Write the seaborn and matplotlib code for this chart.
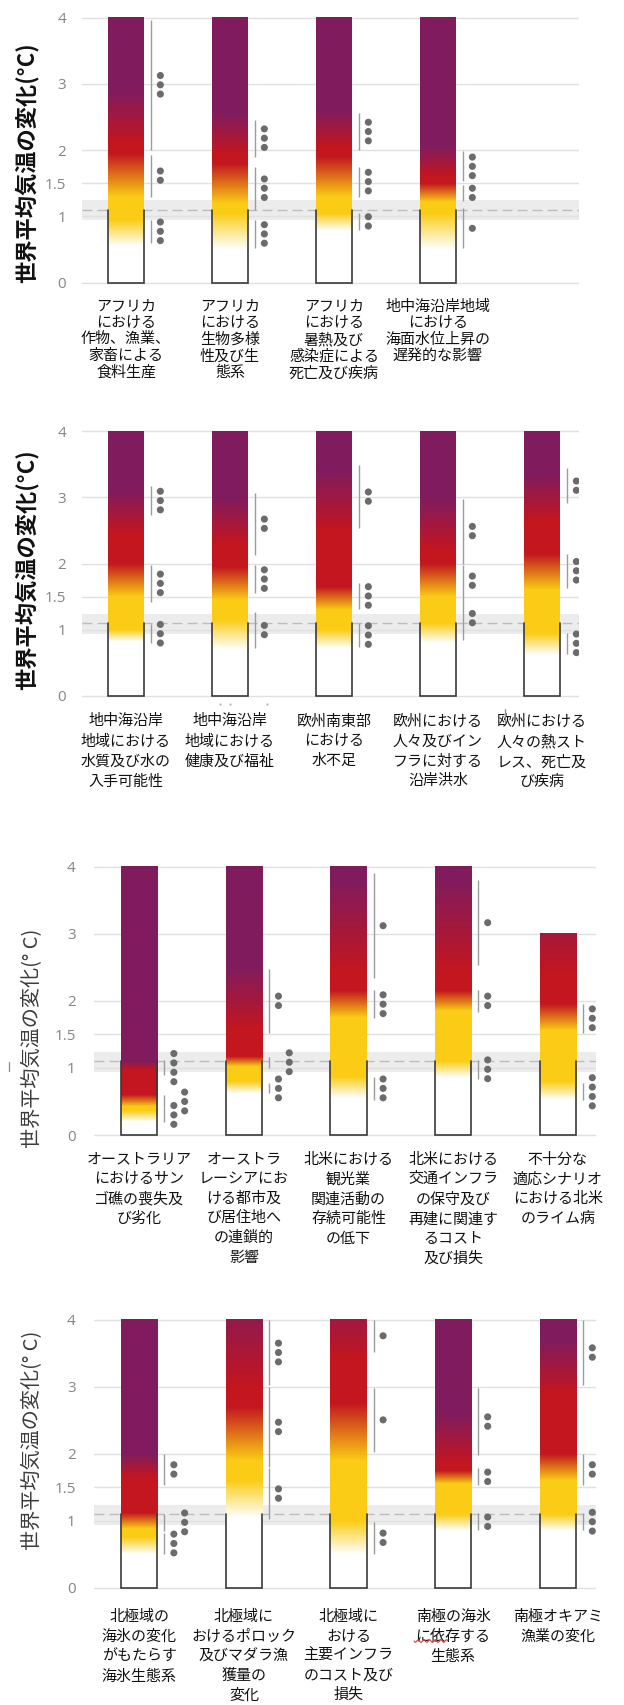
import numpy as np
import matplotlib
matplotlib.use("Agg")
import matplotlib.pyplot as plt
from matplotlib.colors import LinearSegmentedColormap
from matplotlib.lines import Line2D
import seaborn as sns

# ---------------------------------------------------------------------------
# Data
# Risk level scale: 0 = undetectable, 1 = moderate, 2 = high, 3 = very high.
# Each ember is a list of (global warming in °C, risk level) anchor points;
# the colour is interpolated between the anchors.
# Confidence entries are (lower °C, upper °C, number of confidence dots).
# ---------------------------------------------------------------------------

p1_labels = [
    "アフリカ\nにおける\n作物、漁業、\n家畜による\n食料生産",
    "アフリカ\nにおける\n生物多様\n性及び生\n態系",
    "アフリカ\nにおける\n暑熱及び\n感染症による\n死亡及び疾病",
    "地中海沿岸地域\nにおける\n海面水位上昇の\n遅発的な影響",
]
p1_tops = [4, 4, 4, 4]
p1_embers = [
    [(0.55, 0), (0.95, 1), (1.3, 1), (1.95, 2), (2.1, 2), (2.9, 3)],
    [(0.5, 0), (1.05, 1), (1.2, 1), (1.8, 2), (1.95, 2), (2.55, 3)],
    [(0.78, 0), (1.05, 1), (1.3, 1), (1.9, 2), (2.05, 2), (2.6, 3)],
    [(0.5, 0), (1.05, 1), (1.22, 1), (1.5, 2), (1.62, 2), (2.05, 3)],
]
p1_confidence = [
    [(0.6, 0.95, 3), (1.3, 1.93, 2), (2.0, 3.97, 3)],
    [(0.52, 0.95, 3), (1.1, 1.75, 3), (1.9, 2.46, 3)],
    [(0.8, 1.05, 2), (1.3, 1.75, 3), (2.0, 2.56, 3)],
    [(0.52, 1.12, 1), (1.23, 1.48, 2), (1.53, 1.98, 3)],
]

p2_labels = [
    "地中海沿岸\n地域における\n水質及び水の\n入手可能性",
    "地中海沿岸\n地域における\n健康及び福祉",
    "欧州南東部\nにおける\n水不足",
    "欧州における\n人々及びイン\nフラに対する\n沿岸洪水",
    "欧州における\n人々の熱スト\nレス、死亡及\nび疾病",
]
p2_tops = [4, 4, 4, 4, 4]
p2_embers = [
    [(0.82, 0), (1.0, 1), (1.5, 1), (2.0, 2), (2.45, 2), (3.1, 3)],
    [(0.7, 0), (1.15, 1), (1.45, 1), (1.95, 2), (2.3, 2), (3.0, 3)],
    [(0.72, 0), (1.0, 1), (1.3, 1), (1.65, 2), (2.5, 2), (3.4, 3)],
    [(0.8, 0), (1.1, 1), (1.5, 1), (2.0, 2), (2.2, 2), (3.0, 3)],
    [(0.62, 0), (0.95, 1), (1.6, 1), (2.15, 2), (2.65, 2), (3.35, 3)],
]
p2_confidence = [
    [(0.8, 1.08, 3), (1.42, 1.98, 3), (2.73, 3.17, 3)],
    [(0.72, 1.27, 2), (1.55, 1.98, 3), (2.13, 3.07, 2)],
    [(0.74, 1.1, 3), (1.32, 1.7, 3), (2.53, 3.49, 2)],
    [(0.85, 1.5, 2), (1.5, 1.98, 2), (2.0, 2.98, 2)],
    [(0.64, 0.95, 3), (1.63, 2.15, 3), (2.91, 3.44, 2)],
]

p3_labels = [
    "オーストラリア\nにおけるサン\nゴ礁の喪失及\nび劣化",
    "オーストラ\nレーシアにお\nける都市及\nび居住地へ\nの連鎖的\n影響",
    "北米における\n観光業\n関連活動の\n存続可能性\nの低下",
    "北米における\n交通インフラ\nの保守及び\n再建に関連す\nるコスト\n及び損失",
    "不十分な\n適応シナリオ\nにおける北米\nのライム病",
]
p3_tops = [4, 4, 4, 4, 3]
p3_embers = [
    [(0.2, 0), (0.36, 1), (0.42, 1), (0.6, 2), (0.97, 2), (1.1, 3)],
    [(0.62, 0), (0.8, 1), (1.02, 1), (1.17, 2), (1.57, 2), (2.5, 3)],
    [(0.55, 0), (0.87, 1), (1.75, 1), (2.15, 2), (2.45, 2), (3.8, 3)],
    [(0.85, 0), (1.1, 1), (1.85, 1), (2.15, 2), (2.45, 2), (3.8, 3)],
    [(0.52, 0), (0.8, 1), (1.55, 1), (1.95, 2), (2.4, 2), (3.8, 3)],
]
p3_confidence = [
    [(0.2, 0.4, 3), (0.4, 0.6, 3), (0.89, 1.12, 4)],
    [(0.62, 0.77, 3), (1.0, 1.17, 3), (1.52, 2.48, 2)],
    [(0.52, 0.87, 3), (1.74, 2.16, 3), (2.34, 3.9, 1)],
    [(0.84, 1.12, 3), (1.84, 2.16, 2), (2.53, 3.8, 1)],
    [(0.52, 0.77, 4), (1.52, 1.96, 3)],
]

p4_labels = [
    "北極域の\n海氷の変化\nがもたらす\n海氷生態系",
    "北極域に\nおけるポロック\n及びマダラ漁\n獲量の\n変化",
    "北極域に\nおける\n主要インフラ\nのコスト及び\n損失",
    "南極の海氷\nに依存する\n生態系",
    "南極オキアミ\n漁業の変化",
]
p4_tops = [4, 4, 4, 4, 4]
p4_embers = [
    [(0.5, 0), (0.76, 1), (0.88, 1), (1.12, 2), (1.65, 2), (2.0, 3)],
    [(1.05, 0), (1.6, 1), (1.9, 1), (2.7, 2), (3.0, 2), (4.4, 3)],
    [(0.5, 0), (1.0, 1), (1.9, 1), (2.75, 2), (3.4, 2), (4.6, 3)],
    [(0.85, 0), (1.1, 1), (1.55, 1), (1.75, 2), (1.85, 2), (2.6, 3)],
    [(0.85, 0), (1.1, 1), (1.6, 1), (2.0, 2), (2.9, 2), (3.7, 3)],
]
p4_confidence = [
    [(0.5, 0.82, 3), (0.85, 1.1, 3), (1.53, 2.0, 2)],
    [(1.03, 1.78, 2), (1.8, 3.0, 2), (3.02, 4.0, 3)],
    [(0.51, 0.98, 2), (2.03, 2.98, 1), (3.52, 4.0, 1)],
    [(0.86, 1.11, 2), (1.53, 1.78, 2), (1.98, 2.98, 2)],
    [(0.86, 1.11, 3), (1.53, 2.0, 2), (3.02, 4.0, 2)],
]

y_ticks = [0, 1, 1.5, 2, 3, 4]
y_tick_labels = ["0", "1", "1.5", "2", "3", "4"]
recent_warming = 1.1            # dashed line: warming reached so far
recent_range = (0.94, 1.24)     # shaded likely range around it

# ---------------------------------------------------------------------------
# Style
# ---------------------------------------------------------------------------
sns.set_theme(style="white")
plt.rcParams["font.family"] = ["Noto Sans CJK JP", "DejaVu Sans"]

YELLOW = "#FACC15"
RED = "#C3161F"
PURPLE = "#801C5E"
ember_cmap = LinearSegmentedColormap.from_list(
    "ember", [(0.0, "white"), (1 / 3, YELLOW), (2 / 3, RED), (1.0, PURPLE)])

W_PX, H_PX = 624, 1705
BAR_WIDTH = 0.345
LINE_DX = 0.067      # confidence line, right of the bar edge
DOT_DX = 0.158       # first column of confidence dots
DOT_COL = 0.103      # extra shift for an overlapping dot group
DOT_STEP = 0.14      # vertical spacing between dots


def add_axes_px(fig, left, right, top, bottom):
    return fig.add_axes([left / W_PX, 1 - bottom / H_PX,
                         (right - left) / W_PX, (bottom - top) / H_PX])


def to_fig(xs, ys):
    """Figure pixel coordinates (origin top-left) to figure fractions."""
    return np.asarray(xs) / W_PX, 1 - np.asarray(ys) / H_PX


def draw_panel(ax, labels, tops, embers, confidence, xlim, tick_pad,
               label_pad, linespacing):
    sns.barplot(x=labels, y=tops, order=labels, color="white",
                width=BAR_WIDTH, errorbar=None, linewidth=0, ax=ax, zorder=1)

    # recent warming band and grid
    ax.axhspan(*recent_range, color="#ececec", lw=0, zorder=0.2)
    for t in y_ticks:
        ax.axhline(t, color="#e0e0e0", lw=1.0, zorder=0.4)
    ax.axhline(recent_warming, color="#bdbdbd", lw=1.0,
               dashes=(7.2, 3.6), zorder=0.5)

    dots_x, dots_y = [], []
    for patch, stops, conf in zip(ax.patches, embers, confidence):
        x0 = patch.get_x()
        w = patch.get_width()
        top = patch.get_height()
        patch.set_facecolor("none")

        # burning ember gradient
        temps = np.linspace(0, top, 800)
        level = np.interp(temps, [s[0] for s in stops], [s[1] for s in stops])
        ax.imshow(level[:, None], cmap=ember_cmap, vmin=0, vmax=3,
                  extent=(x0, x0 + w, 0, top), origin="lower",
                  aspect="auto", interpolation="nearest", zorder=2)

        # open box below the recent warming level
        ax.plot([x0, x0, x0 + w, x0 + w],
                [recent_warming, 0, 0, recent_warming],
                color="#3a3a3a", lw=1.2, zorder=3, solid_joinstyle="miter")

        # confidence lines and dots; overlapping dot groups move one column right
        xr = x0 + w
        placed = []
        for lo, hi, n in sorted(conf, key=lambda c: c[0]):
            ax.vlines(xr + LINE_DX, lo, hi, color="#9c9c9c", lw=1.0, zorder=3)
            mid = 0.5 * (lo + hi)
            ys = mid + (np.arange(n) - (n - 1) / 2) * DOT_STEP
            span = (ys.min() - DOT_STEP / 2, ys.max() + DOT_STEP / 2)
            col = 0
            while any(c == col and span[0] < b and span[1] > a
                      for c, a, b in placed):
                col += 1
            placed.append((col, span[0], span[1]))
            dots_x += [xr + DOT_DX + col * DOT_COL] * n
            dots_y += list(ys)

    sns.scatterplot(x=np.array(dots_x), y=np.array(dots_y), s=26,
                    color="#6b6b6b", edgecolor="none", legend=False,
                    ax=ax, zorder=4)

    ax.set_xlim(*xlim)
    ax.set_ylim(-0.05, 4.05)
    ax.set_yticks(y_ticks)
    ax.set_yticklabels(y_tick_labels, fontfamily="Open Sans", fontsize=11,
                       color="#858585")
    ax.set_xlabel("")
    ax.set_ylabel("")
    ax.tick_params(axis="y", length=0, pad=tick_pad)
    ax.tick_params(axis="x", length=0, pad=label_pad, labelsize=10.8,
                   labelcolor="#111111")
    for t in ax.get_xticklabels():
        t.set_linespacing(linespacing)
    for s in ax.spines.values():
        s.set_visible(False)
    ax.grid(False)


fig = plt.figure(figsize=(W_PX / 100, H_PX / 100), dpi=100)
fig.patch.set_facecolor("white")

ax1 = add_axes_px(fig, 82.4, 579.0, 14.2, 286.0)
ax2 = add_axes_px(fig, 82.4, 579.0, 427.7, 699.3)
ax3 = add_axes_px(fig, 94.3, 595.7, 863.3, 1138.4)
ax4 = add_axes_px(fig, 94.3, 595.7, 1316.35, 1591.05)

draw_panel(ax1, p1_labels, p1_tops, p1_embers, p1_confidence,
           (-0.419, 4.356), 11.8, 9.8, 1.21)
draw_panel(ax2, p2_labels, p2_tops, p2_embers, p2_confidence,
           (-0.419, 4.356), 11.8, 10.8, 1.52)
draw_panel(ax3, p3_labels, p3_tops, p3_embers, p3_confidence,
           (-0.43, 4.363), 13.5, 10.0, 1.5)
draw_panel(ax4, p4_labels, p4_tops, p4_embers, p4_confidence,
           (-0.43, 4.363), 13.5, 13.6, 1.5)

ylabel_bold = "世界平均気温の変化(°C)"
ylabel_plain = "世界平均気温の変化(° C)"
for yc, text in [(163, ylabel_bold), (570, ylabel_bold)]:
    fig.text(27 / W_PX, 1 - yc / H_PX, text, rotation=90, ha="center",
             va="center", fontsize=16, fontweight="bold", color="#111111")
for yc, text in [(1038, ylabel_plain), (1440, ylabel_plain)]:
    fig.text(33 / W_PX, 1 - yc / H_PX, text, rotation=90, ha="center",
             va="center", fontsize=14.5, color="#3c3c3c")

# wavy spell-check underline beneath "に依"
wx = np.linspace(414, 448, 60)
wy = 1641 + 1.3 * np.sin((wx - 414) / 34 * 2 * np.pi * 6)
fx, fy = to_fig(wx, wy)
fig.add_artist(Line2D(fx, fy, transform=fig.transFigure, color="#d23a3a",
                      lw=0.8))

# short separator strokes near the panel edges
for xs, ys in [([505, 505], [709, 723]), ([9, 9], [1062, 1071])]:
    fx, fy = to_fig(xs, ys)
    fig.add_artist(Line2D(fx, fy, transform=fig.transFigure,
                          color="#8a8a8a", lw=0.9))
fx, fy = to_fig([220, 230, 267], [704, 704, 704])
fig.add_artist(Line2D(fx, fy, transform=fig.transFigure, ls="none",
                      marker="o", ms=1.6, color="#b5b5b5", mec="none"))

fig.savefig("out.png", dpi=100, facecolor="white")
